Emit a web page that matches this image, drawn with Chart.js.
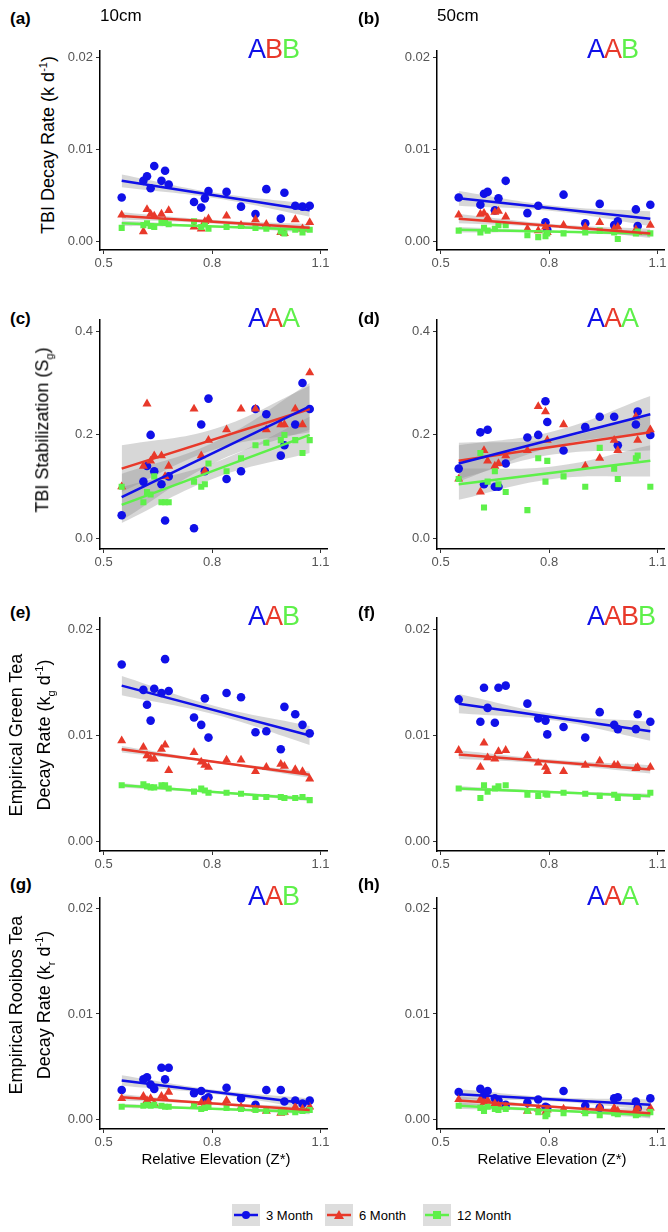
<!DOCTYPE html>
<html><head><meta charset="utf-8">
<script src="https://cdn.jsdelivr.net/npm/chart.js@4/dist/chart.umd.min.js"></script>
<style>
body{margin:0;width:668px;height:1232px;background:#fff;position:relative;overflow:hidden;font-family:"Liberation Sans",Arial,sans-serif}
canvas{position:absolute}
.t{position:absolute;white-space:nowrap;color:#000}
.pl{font-weight:bold;font-size:17px}
.let{font-size:27px;letter-spacing:-1px}
.yt{position:absolute;font-size:18px;text-align:center;line-height:23px;transform:translate(-50%,-50%) rotate(-90deg);white-space:nowrap}
.xt{font-size:15px;transform:translateX(-50%)}
.leg{position:absolute;top:1204px;display:flex;align-items:center;font-size:13px}
.leg svg{background:#ddd;margin-right:6px}
</style></head><body>
<script>
// ---------- data ----------
const X10 = [0.55,0.61,0.62,0.63,0.64,0.66,0.67,0.68,0.75,0.77,0.78,0.79,0.84,0.88,0.92,0.95,0.99,1.00,1.03,1.05,1.07];
const X50 = [0.55,0.61,0.62,0.63,0.65,0.66,0.68,0.74,0.77,0.79,0.795,0.84,0.90,0.94,0.98,0.99,1.04,1.045,1.08];
const xTicks = [0.5,0.8,1.1];
const seriesNames = ["3 Month","6 Month","12 Month"];

const a3=[0.0048,0.0066,0.0071,0.0058,0.0082,0.0066,0.0077,0.0062,0.0043,0.0037,0.0047,0.0055,0.0054,0.0038,0.0030,0.0057,0.0025,0.0053,0.0039,0.0038,0.0039];
const a6=[0.0029,0.0011,0.0035,0.0030,0.0028,0.0030,0.0022,0.0034,0.0016,0.0014,0.0022,0.0025,0.0028,0.0018,0.0024,0.0019,0.0010,0.0009,0.0024,0.0014,0.0021];
const a12=[0.0015,0.0018,0.0020,0.0017,0.0016,0.0022,0.0021,0.0019,0.0022,0.0016,0.0019,0.0014,0.0016,0.0017,0.0015,0.0014,0.0011,0.0009,0.0013,0.0010,0.0013];
const c3=[0.045,0.11,0.14,0.20,0.13,0.105,0.035,0.12,0.02,0.22,0.13,0.27,0.115,0.13,0.25,0.24,0.16,0.18,0.22,0.30,0.25];
const c6=[0.10,0.14,0.26,0.15,0.16,0.16,0.12,0.14,0.25,0.16,0.13,0.19,0.21,0.25,0.25,0.21,0.22,0.22,0.25,0.22,0.32];
const c12=[0.10,0.07,0.09,0.085,0.12,0.07,0.07,0.07,0.11,0.10,0.105,0.145,0.13,0.155,0.18,0.185,0.19,0.20,0.19,0.165,0.19];
const e3=[0.0167,0.0143,0.0129,0.0114,0.0144,0.0140,0.0172,0.0142,0.0117,0.0110,0.0135,0.0098,0.0140,0.0136,0.0103,0.0104,0.0087,0.0127,0.0120,0.0110,0.0102];
const e6=[0.0095,0.0089,0.0081,0.0078,0.0078,0.0087,0.0091,0.0067,0.0084,0.0075,0.0072,0.0070,0.0077,0.0077,0.0066,0.0070,0.0073,0.0071,0.0068,0.0066,0.0059];
const e12=[0.0053,0.0054,0.0052,0.0051,0.0051,0.0053,0.0053,0.0050,0.0047,0.0050,0.0048,0.0046,0.0046,0.0045,0.0042,0.0042,0.0042,0.0041,0.0041,0.0042,0.0039];
const g3=[0.0028,0.0038,0.0040,0.0033,0.0029,0.0049,0.0038,0.0049,0.0025,0.0027,0.0019,0.0021,0.0030,0.0020,0.0014,0.0028,0.0028,0.0017,0.0018,0.0015,0.0018];
const g6=[0.0020,0.0022,0.0018,0.0020,0.0015,0.0022,0.0020,0.0026,0.0013,0.0016,0.0014,0.0017,0.0018,0.0012,0.0010,0.0008,0.0006,0.0007,0.0012,0.0010,0.0012];
const g12=[0.0012,0.0013,0.0014,0.0013,0.0014,0.0013,0.0012,0.0012,0.0013,0.0010,0.0011,0.0012,0.0011,0.0010,0.0009,0.0008,0.0007,0.0007,0.0007,0.0008,0.0009];
const b3=[0.0048,0.0040,0.0052,0.0054,0.0034,0.0047,0.0066,0.0031,0.0039,0.0021,0.0013,0.0051,0.0020,0.0041,0.0018,0.0022,0.0035,0.0017,0.0040];
const b6=[0.0029,0.0030,0.0031,0.0026,0.0032,0.0033,0.0027,0.0014,0.0012,0.0016,0.0010,0.0018,0.0016,0.0021,0.0014,0.0016,0.0013,0.0010,0.0018];
const b12=[0.0012,0.0010,0.0015,0.0012,0.0014,0.0018,0.0018,0.0007,0.0005,0.0006,0.0009,0.0009,0.0010,0.0012,0.0010,0.0003,0.0009,0.0011,0.0009];
const d3=[0.135,0.205,0.105,0.21,0.10,0.10,0.145,0.195,0.20,0.265,0.225,0.17,0.215,0.235,0.235,0.18,0.22,0.245,0.20];
const d6=[0.115,0.09,0.17,0.15,0.14,0.145,0.16,0.17,0.255,0.245,0.19,0.22,0.14,0.155,0.19,0.17,0.235,0.19,0.21];
const d12=[0.115,0.165,0.06,0.11,0.13,0.105,0.09,0.055,0.155,0.11,0.15,0.12,0.10,0.175,0.135,0.115,0.155,0.16,0.10];
const f3=[0.0134,0.0113,0.0145,0.0126,0.0112,0.0145,0.0147,0.0130,0.0116,0.0114,0.0101,0.0108,0.0098,0.0122,0.0110,0.0106,0.0106,0.0120,0.0113];
const f6=[0.0086,0.0070,0.0093,0.0079,0.0078,0.0085,0.0086,0.0081,0.0074,0.0070,0.0066,0.0066,0.0072,0.0076,0.0072,0.0072,0.0069,0.0070,0.0070];
const f12=[0.0050,0.0041,0.0053,0.0047,0.0050,0.0052,0.0053,0.0044,0.0043,0.0045,0.0044,0.0046,0.0045,0.0043,0.0044,0.0041,0.0042,0.0042,0.0046];
const h3=[0.0026,0.0029,0.0023,0.0027,0.0020,0.0018,0.0014,0.0016,0.0019,0.0012,0.0011,0.0027,0.0013,0.0011,0.0020,0.0021,0.0017,0.0011,0.0020];
const h6=[0.0019,0.0019,0.0016,0.0018,0.0015,0.0013,0.0012,0.0008,0.0010,0.0007,0.0009,0.0010,0.0008,0.0012,0.0011,0.0008,0.0009,0.0011,0.0011];
const h12=[0.0013,0.0011,0.0008,0.0012,0.0010,0.0009,0.0010,0.0008,0.0007,0.0003,0.0005,0.0006,0.0006,0.0004,0.0006,0.0005,0.0004,0.0005,0.0007];

// fitted line ends [y at start, y at end] and CI half-width [at ends, at middle]
const fitA=[[0.0066,0.0034],[0.0028,0.0015],[0.0020,0.0013]], ciA=[[0.0007,0.0003],[0.0004,0.0002],[0.0003,0.0001]];
const fitB=[[0.0047,0.0025],[0.0025,0.0009],[0.0013,0.0009]], ciB=[[0.0008,0.0003],[0.0005,0.0002],[0.0003,0.0001]];
const fitC=[[0.08,0.255],[0.135,0.25],[0.065,0.20]], ciC=[[0.045,0.02],[0.045,0.02],[0.035,0.015]];
const fitD=[[0.145,0.24],[0.15,0.205],[0.105,0.15]], ciD=[[0.035,0.015],[0.035,0.015],[0.03,0.012]];
const fitE=[[0.0147,0.0100],[0.0087,0.0063],[0.0053,0.0040]], ciE=[[0.0009,0.0004],[0.0003,0.0001],[0.0002,0.0001]];
const fitF=[[0.0130,0.0104],[0.0082,0.0068],[0.0050,0.0043]], ciF=[[0.0009,0.0003],[0.0004,0.0002],[0.0002,0.0001]];
const fitG=[[0.0037,0.0015],[0.0021,0.0009],[0.0013,0.0007]], ciG=[[0.0005,0.0002],[0.0003,0.0001],[0.0002,0.0001]];
const fitH=[[0.0024,0.0014],[0.0018,0.0006],[0.0013,0.0004]], ciH=[[0.0005,0.0002],[0.0004,0.0001],[0.0003,0.0001]];

// ---------- layout ----------
const COLORS=['#1010e8','#e8392a','#5ef04a'];
const SHAPES=['circle','triangle','rect'];
const colLeft=[60,397];
const rows=[
 {top:40,len:210,min:-0.0009,max:0.0207,ticks:[0,0.01,0.02],dec:2,lab:-31},
 {top:309,len:240,min:-0.02,max:0.422,ticks:[0,0.2,0.4],dec:1,lab:0},
 {top:607,len:244,min:-0.0009,max:0.0211,ticks:[0,0.01,0.02],dec:2,lab:-4},
 {top:887,len:242,min:-0.0009,max:0.021,ticks:[0,0.01,0.02],dec:2,lab:-12}];
const panels=[
 {r:0,c:0,X:X10,ys:[a3,a6,a12],fit:fitA,ci:ciA,lab:'(a)',let:['A','B','B']},
 {r:0,c:1,X:X50,ys:[b3,b6,b12],fit:fitB,ci:ciB,lab:'(b)',let:['A','A','B']},
 {r:1,c:0,X:X10,ys:[c3,c6,c12],fit:fitC,ci:ciC,lab:'(c)',let:['A','A','A']},
 {r:1,c:1,X:X50,ys:[d3,d6,d12],fit:fitD,ci:ciD,lab:'(d)',let:['A','A','A']},
 {r:2,c:0,X:X10,ys:[e3,e6,e12],fit:fitE,ci:ciE,lab:'(e)',let:['A','A','B']},
 {r:2,c:1,X:X50,ys:[f3,f6,f12],fit:fitF,ci:ciF,lab:'(f)',let:['A','A','B','B'],letC:[0,1,1,2]},
 {r:3,c:0,X:X10,ys:[g3,g6,g12],fit:fitG,ci:ciG,lab:'(g)',let:['A','A','B']},
 {r:3,c:1,X:X50,ys:[h3,h6,h12],fit:fitH,ci:ciH,lab:'(h)',let:['A','A','A']}];

function addText(cls,txt,x,y,extra){const d=document.createElement('div');d.className='t '+cls;d.innerHTML=txt;d.style.left=x+'px';d.style.top=y+'px';if(extra)Object.assign(d.style,extra);document.body.appendChild(d);return d;}

panels.forEach(p=>{
  const R=rows[p.r];
  const cv=document.createElement('canvas');
  const H=R.len+24;
  cv.style.left=colLeft[p.c]+'px';cv.style.top=R.top+'px';
  cv.style.width='273px';cv.style.height=H+'px';
  cv.width=273;cv.height=H;
  document.body.appendChild(cv);
  const X=p.X, x0=X[0], x1=X[X.length-1], xm=(x0+x1)/2;
  const ds=[];
  p.fit.forEach((f,i)=>{
    const ym=(f[0]+f[1])/2, w=p.ci[i];
    ds.push({type:'line',data:[{x:x0,y:f[0]+w[0]},{x:xm,y:ym+w[1]},{x:x1,y:f[1]+w[0]}],borderWidth:0,pointRadius:0,tension:0.4,fill:false,order:10});
    ds.push({type:'line',data:[{x:x0,y:f[0]-w[0]},{x:xm,y:ym-w[1]},{x:x1,y:f[1]-w[0]}],borderWidth:0,pointRadius:0,tension:0.4,fill:'-1',backgroundColor:'rgba(140,140,140,0.35)',order:10});
  });
  p.ys.forEach((ys,i)=>{
    ds.push({type:'scatter',label:seriesNames[i],data:ys.map((y,k)=>({x:X[k],y})),pointStyle:SHAPES[i],pointRadius:SHAPES[i]==='triangle'?5.2:4.3,backgroundColor:COLORS[i],borderColor:COLORS[i],borderWidth:0,order:5-i});
  });
  p.fit.forEach((f,i)=>{
    ds.push({type:'line',data:[{x:x0,y:f[0]},{x:x1,y:f[1]}],borderColor:COLORS[i],borderWidth:2.5,pointRadius:0,fill:false,order:1});
  });
  new Chart(cv,{data:{datasets:ds},options:{animation:false,responsive:false,devicePixelRatio:1,
    layout:{padding:0},
    plugins:{legend:{display:false},tooltip:{enabled:false}},
    scales:{
      x:{type:'linear',min:0.49,max:1.12,afterFit:s=>{s.height=24},
         afterBuildTicks:s=>{s.ticks=xTicks.map(v=>({value:v}))},
         ticks:{color:'#555',font:{size:13,family:'Liberation Sans'},padding:2,callback:v=>v.toFixed(1)},
         grid:{drawOnChartArea:false,tickLength:4,color:'#333'},border:{color:'#000',width:1.5}},
      y:{type:'linear',min:R.min,max:R.max,afterFit:s=>{s.width=40},
         afterBuildTicks:s=>{s.ticks=R.ticks.map(v=>({value:v}))},
         ticks:{color:'#555',font:{size:13,family:'Liberation Sans'},padding:3,callback:v=>v.toFixed(R.dec)},
         grid:{drawOnChartArea:false,tickLength:4,color:'#333'},border:{color:'#000',width:1.5}}
    }}});
  const labX=p.c===0?10:358;
  addText('pl',p.lab,labX,R.top+R.lab);
  const lc=p.letC||[0,1,2];
  const html=p.let.map((l,k)=>`<span style="color:${COLORS[lc[k]]}">${l}</span>`).join('');
  addText('let',html,(p.c===0?248:587),R.top-6);
});
addText('','10cm',100,6,{fontSize:'17px'});
addText('','50cm',437,6,{fontSize:'17px'});
function yTitle(html,x,y){const d=document.createElement('div');d.className='yt';d.innerHTML=html;d.style.left=x+'px';d.style.top=y+'px';document.body.appendChild(d);}
yTitle('TBI Decay Rate (k d<sup style="font-size:11px">-1</sup>)',46,145);
yTitle('TBI Stabilization (S<sub style="font-size:11px">g</sub>)',46,430);
yTitle('Empirical Green Tea<br>Decay Rate (k<sub style="font-size:11px">g</sub> d<sup style="font-size:11px">-1</sup>)',34,735);
yTitle('Empirical Rooibos Tea<br>Decay Rate (k<sub style="font-size:11px">r</sub> d<sup style="font-size:11px">-1</sup>)',34,1005);
addText('xt','Relative Elevation (Z*)',216,1150);
addText('xt','Relative Elevation (Z*)',552,1150);
const legX=[232,325,423];
const mk=['<circle cx="14" cy="11" r="4" fill="C"/>','<polygon points="14,6 19,15 9,15" fill="C"/>','<rect x="10" y="7" width="8" height="8" fill="C"/>'];
seriesNames.forEach((n,i)=>{
  const d=document.createElement('div');d.className='leg';d.style.left=legX[i]+'px';
  d.innerHTML=`<svg width="28" height="22"><line x1="2" y1="11" x2="26" y2="11" stroke="${COLORS[i]}" stroke-width="2.5"/>${mk[i].replace('C',COLORS[i])}</svg>${n}`;
  document.body.appendChild(d);
});
</script>
</body></html>
